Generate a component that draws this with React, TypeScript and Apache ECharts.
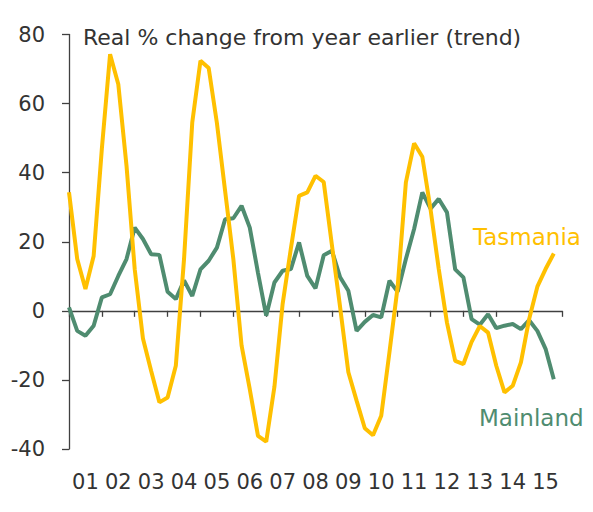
import React, { useEffect, useRef } from "react";
import * as echarts from "echarts";

const yearLabels = ["01", "02", "03", "04", "05", "06", "07", "08", "09", "10", "11", "12", "13", "14", "15"];
const yTicks = { min: -40, max: 80, interval: 20 };

// Quarterly, real % change from year earlier (trend)
const tasmania = [
  34.3, 15, 6.3, 15.9, 47, 74.3, 65.6, 42, 12, -8, -17.4, -26.5,
  -25.1, -15.9, 15, 54.5, 72.4, 70.3, 54.4, 34.7, 15, -10, -22.7, -36.2,
  -37.9, -22, 2, 18, 33.3, 34.3, 39.1, 37.3, 19, 1, -17.8, -26,
  -34, -36, -30.4, -12, 7, 37.2, 48.5, 44.6, 29.4, 12.1, -3.4, -14.5,
  -15.4, -9, -4.4, -6.3, -15.9, -23.6, -21.7, -14.9, -2.4, 7, 12.1, 16.6,
];
const mainland = [
  1, -5.8, -7.2, -4.3, 3.9, 4.8, 10.1, 15, 24.1, 20.8, 16.4, 16.2,
  5.5, 3.4, 8.8, 4.3, 12, 14.5, 18.3, 26.5, 26.8, 30.4, 24.1, 11,
  -1.4, 8.2, 11.6, 12.1, 19.8, 10.1, 6.5, 16.1, 17.4, 9.7, 5.8, -5.8,
  -3.2, -1.2, -1.9, 8.7, 5.5, 15, 23.7, 34.3, 29.6, 32.4, 28.5, 12,
  9.7, -2.4, -4, -1, -5, -4.3, -3.8, -5.3, -2.7, -5.8, -11, -19.8,
];

const TAS_COLOR = "#FFC000";
const MAIN_COLOR = "#4F8C70";
const AXIS_COLOR = "#404040";
const TEXT_COLOR = "#333333";
const FONT = "DejaVu Sans";

export default function App() {
  const ref = useRef<HTMLDivElement>(null);
  useEffect(() => {
    document.body.style.margin = "0";
    if (!ref.current) return;
    const chart = echarts.init(ref.current, null, { renderer: "svg" });
    const quarters = yearLabels.length * 4;
    chart.setOption({
      animation: false,
      backgroundColor: "#ffffff",
      textStyle: { fontFamily: FONT },
      grid: { left: 69, right: 31, top: 34.5, bottom: 63, containLabel: false },
      xAxis: [
        {
          type: "value",
          min: 0,
          max: quarters,
          interval: 4,
          axisLine: { show: true, onZero: true, lineStyle: { color: AXIS_COLOR, width: 1.3 } },
          axisTick: { show: true, inside: false, length: 6, lineStyle: { color: AXIS_COLOR, width: 1.3 } },
          axisLabel: { show: false },
          splitLine: { show: false },
        },
        {
          type: "category",
          data: yearLabels,
          boundaryGap: true,
          position: "bottom",
          axisLine: { show: false, onZero: false },
          axisTick: { show: false },
          axisLabel: { show: true, fontSize: 21, color: TEXT_COLOR, fontFamily: FONT, margin: 22, interval: 0 },
          splitLine: { show: false },
        },
      ],
      yAxis: {
        type: "value",
        min: yTicks.min,
        max: yTicks.max,
        interval: yTicks.interval,
        axisLine: { show: true, lineStyle: { color: AXIS_COLOR, width: 1.3 } },
        axisTick: { show: true, inside: false, length: 7, lineStyle: { color: AXIS_COLOR, width: 1.3 } },
        axisLabel: { fontSize: 21, color: TEXT_COLOR, fontFamily: FONT, margin: 24 },
        splitLine: { show: false },
      },
      series: [
        {
          name: "Mainland",
          type: "line",
          xAxisIndex: 0,
          data: mainland.map((v, i) => [i, v]),
          showSymbol: false,
          lineStyle: { color: MAIN_COLOR, width: 4 },
          itemStyle: { color: MAIN_COLOR },
          z: 3,
        },
        {
          name: "Tasmania",
          type: "line",
          xAxisIndex: 0,
          data: tasmania.map((v, i) => [i, v]),
          showSymbol: false,
          lineStyle: { color: TAS_COLOR, width: 4 },
          itemStyle: { color: TAS_COLOR },
          z: 4,
        },
      ],
      graphic: [
        {
          type: "text",
          left: 83,
          top: 26,
          style: { text: "Real % change from year earlier (trend)", fontSize: 22, fill: TEXT_COLOR, fontFamily: FONT },
        },
        {
          type: "text",
          left: 473,
          top: 225,
          style: { text: "Tasmania", fontSize: 23, fill: TAS_COLOR, fontFamily: FONT },
        },
        {
          type: "text",
          left: 479,
          top: 406,
          style: { text: "Mainland", fontSize: 23, fill: MAIN_COLOR, fontFamily: FONT },
        },
      ],
    });
    return () => chart.dispose();
  }, []);
  return <div ref={ref} style={{ width: 593, height: 512 }} />;
}
